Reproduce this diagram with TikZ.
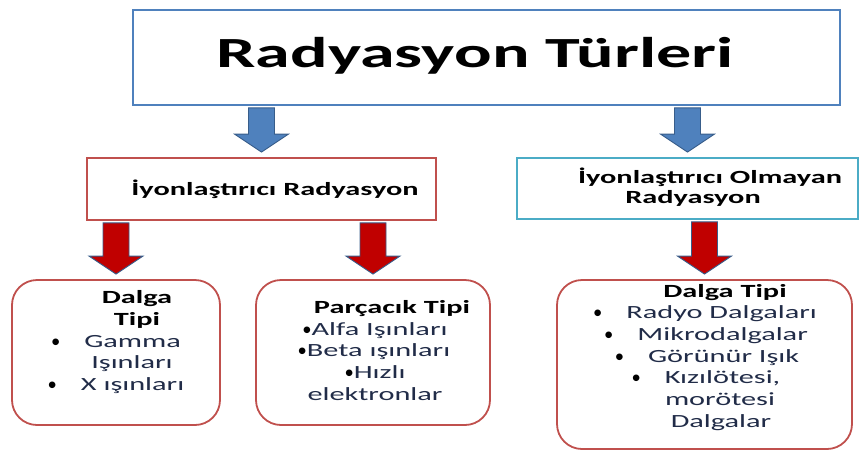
\documentclass[tikz,border=0pt]{standalone}
\usepackage{fontspec}
\setmainfont{Carlito}[FakeStretch=1.63]
\newfontfamily\bulfont{Carlito}
\usetikzlibrary{calc}
\definecolor{titleblue}{RGB}{79,129,189}
\definecolor{boxred}{RGB}{192,80,77}
\definecolor{boxcyan}{RGB}{75,172,198}
\definecolor{arrblue}{RGB}{79,129,189}
\definecolor{arredge}{RGB}{56,93,138}
\definecolor{arrred}{RGB}{192,0,0}
\definecolor{textnavy}{RGB}{33,44,72}
\newcommand{\bul}{{\bulfont\color{black}•}}
% block arrow from the bottom of #2 down to the top of #3
\newcommand{\blockarr}[3]{\draw[#1] let \p1=(#2), \p2=(#3) in
  (\x2-13pt,\y1-2pt) -- (\x2+13pt,\y1-2pt) -- (\x2+13pt,\y2+23pt) -- (\x2+27pt,\y2+23pt)
  -- (\x2,\y2+5pt) -- (\x2-27pt,\y2+23pt) -- (\x2-13pt,\y2+23pt) -- cycle;}
\begin{document}
\begin{tikzpicture}[x=1pt,y=-1pt,
  box/.style={draw,line width=1.8pt,fill=white,inner sep=0pt},
  txt/.style={anchor=base,inner sep=0pt,font=\fontsize{18.6}{22}\selectfont,text=textnavy},
  head/.style={anchor=base,inner sep=0pt,font=\fontsize{18.6}{22}\selectfont\bfseries,text=black},
  bluearr/.style={fill=arrblue,draw=arredge,line width=0.9pt},
  redarr/.style={fill=arrred,draw=arredge,line width=0.9pt}]
\useasboundingbox (0,0) rectangle (859,451);
% title
\node[box,draw=titleblue,minimum width=707,minimum height=95] (title) at (486.5,57.5) {};
\node[anchor=base,inner sep=0pt,font=\fontsize{43}{50}\selectfont\bfseries] (tt) at (475,67) {Radyasyon Türleri};
% second row
\node[box,draw=boxred,minimum width=349,minimum height=62] (ion) at (261.5,189) {};
\node[head] (iont) at (275,195) {İyonlaştırıcı Radyasyon};
\node[box,draw=boxcyan,minimum width=341,minimum height=61] (non) at (687.5,188.5) {};
\node[head] (nont1) at (710,183) {İyonlaştırıcı Olmayan};
\node[head] (nont2) at (693,203) {Radyasyon};
\blockarr{bluearr}{title.south}{ion.north}
\blockarr{bluearr}{title.south}{non.north}
% bottom boxes
\node[box,draw=boxred,rounded corners=25,minimum width=208,minimum height=145] (wave) at (116,352.5) {};
\node[box,draw=boxred,rounded corners=25,minimum width=234,minimum height=145] (part) at (373,352.5) {};
\node[box,draw=boxred,rounded corners=25,minimum width=295,minimum height=169] (nwave) at (704.5,364.5) {};
\blockarr{redarr}{ion.south}{wave.north}
\blockarr{redarr}{ion.south}{part.north}
\blockarr{redarr}{non.south}{nwave.north}
% Dalga tipi (iyonlastirici)
\node[head] (wh1) at (137,303) {Dalga};
\node[head] (wh2) at (137,325) {Tipi};
\foreach \cx/\by/\t [count=\i] in {116/347/{\bul\hspace{24pt}Gamma},132/368/{Işınları},116/390/{\bul\hspace{24pt}X ışınları}}
  \node[txt] (w\i) at (\cx,\by) {\t};
% Parcacik tipi
\node[head] (ph) at (392,313) {Parçacık Tipi};
\foreach \cx/\by/\t [count=\i] in {375/335/{\bul Alfa Işınları},374/356/{\bul Beta ışınları},375/378/{\bul Hızlı},375/400/{elektronlar}}
  \node[txt] (p\i) at (\cx,\by) {\t};
% Dalga tipi (iyonlastirici olmayan)
\node[head] (nh) at (725,297) {Dalga Tipi};
\foreach \cx/\by/\t [count=\i] in {705/318/{\bul\hspace{24pt}Radyo Dalgaları},706/340/{\bul\hspace{24pt}Mikrodalgalar},707/362/{\bul\hspace{24pt}Görünür Işık},706/383/{\bul\hspace{24pt}Kızılötesi,},720/405/{morötesi},721/427/{Dalgalar}}
  \node[txt] (n\i) at (\cx,\by) {\t};
\end{tikzpicture}
\end{document}
